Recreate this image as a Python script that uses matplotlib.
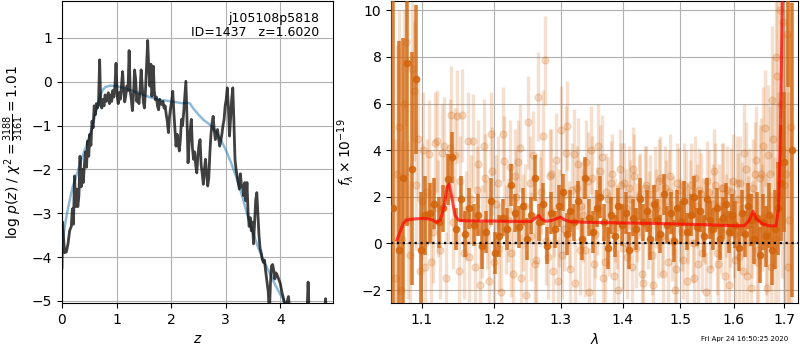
import numpy as np
import matplotlib
matplotlib.use('Agg')
import matplotlib.pyplot as plt

# ---- left panel: log p(z) ----
z_pz = [0.00, 0.01, 0.03, 0.05, 0.08, 0.11, 0.14, 0.17, 0.19, 0.21, 0.23, 0.25, 0.27, 0.29,
        0.31, 0.33, 0.35, 0.37, 0.39, 0.41, 0.43, 0.45, 0.47, 0.49, 0.51, 0.53, 0.55, 0.57,
        0.59, 0.61, 0.63, 0.65, 0.67, 0.69, 0.71, 0.73, 0.75, 0.77, 0.79, 0.81, 0.83, 0.85,
        0.87, 0.89, 0.91, 0.93, 0.95, 0.97, 0.99, 1.01, 1.03, 1.05, 1.07, 1.09, 1.11, 1.13,
        1.15, 1.17, 1.19, 1.21, 1.23, 1.25, 1.27, 1.29, 1.31, 1.33, 1.35, 1.37, 1.39, 1.41,
        1.43, 1.45, 1.47, 1.49, 1.51, 1.53, 1.55, 1.57, 1.59, 1.61, 1.63, 1.645, 1.66, 1.675,
        1.69, 1.71, 1.73, 1.75, 1.77, 1.79, 1.81, 1.83, 1.85, 1.87, 1.89, 1.91, 1.93, 1.95,
        1.97, 1.99, 2.01, 2.03, 2.05, 2.07, 2.09, 2.11, 2.13, 2.15, 2.17, 2.19, 2.21, 2.23,
        2.25, 2.27, 2.29, 2.31, 2.33, 2.35, 2.37, 2.39, 2.41, 2.43, 2.45, 2.47, 2.49, 2.51,
        2.53, 2.55, 2.57, 2.59, 2.61, 2.63, 2.65, 2.67, 2.69, 2.71, 2.73, 2.75, 2.77, 2.79,
        2.81, 2.83, 2.85, 2.87, 2.89, 2.91, 2.93, 2.95, 2.97, 2.99, 3.01, 3.03, 3.05, 3.07,
        3.09, 3.11, 3.13, 3.15, 3.17, 3.19, 3.21, 3.23, 3.25, 3.27, 3.29, 3.31, 3.33, 3.35,
        3.37, 3.39, 3.41, 3.43, 3.45, 3.47, 3.49, 3.51, 3.53, 3.55, 3.57, 3.59, 3.61, 3.63,
        3.65, 3.67, 3.69, 3.71, 3.73, 3.75, 3.78, 3.80, 3.82, 3.84, 3.86, 3.88, 3.90, 3.92,
        3.94, 3.97, 4.00, 4.03, 4.06, 4.09, 4.12, 4.15, 4.18, 4.25, 4.35, 4.45, 4.49, 4.51,
        4.53, 4.60, 4.70, 4.80, 4.83, 4.85, 4.97]
logpz = [-4.25, -3.2, -3.6, -3.9, -3.88, -3.7, -3.4, -3.3, -2.9, -3.25, -2.15, -2.85, -2.45, -2.85,
         -2.6, -1.7, -2.4, -2.0, -2.3, -1.9, -1.6, -1.95, -1.35, -1.7, -1.2, -1.45, -0.9, -1.05,
         -0.55, -0.75, -0.5, -0.6, -0.45, 0.5, -0.55, -0.6, -0.4, -0.55, -0.3, -0.45, -0.35, -0.25,
         -0.5, -0.3, -0.45, -0.2, -0.35, -0.1, 0.42, -0.3, -0.5, -0.25, -0.4, -0.1, 0.23, -0.2,
         -0.46, -0.3, -0.1, -0.2, 0.71, -0.2, -0.4, -0.66, -0.3, 0.27, 0.05, -0.45, -0.3, -0.5,
         -0.2, 0.27, -0.1, -0.45, -0.6, -0.2, 0.4, 0.94, 0.3, -0.1, 0.4, -0.33, -0.2, 0.35,
         -0.2, -0.41, -0.35, -0.55, -0.64, -0.4, -0.5, -0.52, -0.45, -0.6, -0.55, -0.75, -0.9, -1.16,
         -0.8, -0.6, -0.45, -0.22, -0.7, -1.1, -1.47, -1.2, -1.4, -1.58, -1.3, -0.86, -1.0, -0.7,
         -0.35, 0.01, -0.8, -1.85, -1.4, -1.1, -0.86, -1.5, -1.77, -1.6, -1.9, -2.08, -1.7, -1.45,
         -1.32, -1.9, -2.1, -2.34, -2.0, -1.77, -2.1, -2.38, -2.2, -1.62, -1.2, -0.95, -0.79, -1.1,
         -1.32, -1.2, -1.09, -1.3, -1.47, -1.35, -1.2, -1.0, -0.86, -0.55, -0.4, -0.14, -0.6, -1.24,
         -0.8, -0.4, -0.14, -0.9, -1.77, -2.0, -2.15, -2.3, -2.45, -2.1, -2.4, -2.38, -2.6, -2.3,
         -2.72, -2.3, -3.0, -3.3, -3.1, -3.4, -3.2, -3.7, -3.2, -2.7, -2.53, -3.0, -3.5, -3.8,
         -3.9, -4.05, -4.12, -4.07, -4.3, -4.5, -4.8, -5.3, -4.6, -4.2, -4.17, -4.3, -4.5, -4.36,
         -4.4, -4.5, -4.6, -4.8, -4.95, -5.2, -5.05, -4.9, -5.3, -5.6, -5.5, -5.6, -5.3, -4.57,
         -5.3, -5.6, -5.5, -5.4, -4.95, -5.4, -5.6]

z_prior = [0.0, 0.05, 0.1, 0.15, 0.2, 0.25, 0.3, 0.35, 0.4, 0.45, 0.5, 0.55, 0.6, 0.65, 0.7,
           0.75, 0.8, 0.85, 0.9, 1.0, 1.1, 1.2, 1.3, 1.4, 1.5, 1.6, 1.7, 1.8, 1.9, 2.0, 2.1,
           2.2, 2.3, 2.35, 2.4, 2.5, 2.6, 2.7, 2.8, 2.9, 3.0, 3.1, 3.2, 3.3, 3.4, 3.5, 3.6,
           3.7, 3.8, 3.9, 4.0, 4.1, 4.2]
logpz_prior = [-3.75, -3.3, -2.95, -2.65, -2.38, -2.2, -2.0, -1.8, -1.62, -1.45, -1.25, -1.05,
               -0.8, -0.55, -0.32, -0.18, -0.12, -0.1, -0.09, -0.1, -0.13, -0.17, -0.21, -0.25,
               -0.3, -0.35, -0.38, -0.42, -0.43, -0.45, -0.47, -0.49, -0.48, -0.5, -0.6, -0.75,
               -0.88, -0.97, -1.1, -1.3, -1.55, -1.85, -2.2, -2.6, -3.05, -3.45, -3.8, -4.1,
               -4.35, -4.62, -4.85, -5.05, -5.25]

# ---- right panel: spectrum ----
wl_bin = [1.0625, 1.070, 1.076, 1.081, 1.087, 1.093, 1.099, 1.105, 1.111, 1.117, 1.123, 1.129,
          1.135, 1.141, 1.147, 1.153, 1.159, 1.165, 1.171, 1.177, 1.183, 1.189, 1.195, 1.201,
          1.207, 1.213, 1.219, 1.225, 1.231, 1.237, 1.243, 1.249, 1.255, 1.261, 1.267, 1.273,
          1.279, 1.285, 1.291, 1.297, 1.303, 1.309, 1.315, 1.321, 1.327, 1.333, 1.339, 1.345,
          1.351, 1.357, 1.363, 1.369, 1.375, 1.381, 1.387, 1.393, 1.399, 1.405, 1.411, 1.417,
          1.423, 1.429, 1.435, 1.441, 1.447, 1.453, 1.459, 1.465, 1.471, 1.477, 1.483, 1.489,
          1.495, 1.501, 1.507, 1.513, 1.519, 1.525, 1.531, 1.537, 1.543, 1.549, 1.555, 1.561,
          1.567, 1.573, 1.579, 1.585, 1.591, 1.597, 1.603, 1.609, 1.615, 1.621, 1.627, 1.633,
          1.639, 1.645, 1.651, 1.657, 1.663, 1.669, 1.675, 1.681, 1.687, 1.693, 1.699, 1.708,
          1.715]
flux_bin = [1.5, -0.3, 2.8, 7.75, 3.2, 7.05, -0.3, 1.2, 1.3, 1.7, 0.9, 1.5,
            2.75, 3.7, 0.6, 1.9, 0.4, 1.5, 0.8, 1.2, -0.1, 0.5, 1.8, -0.4,
            0.3, 1.1, 0.6, 2.5, 1.3, 0.7, 1.6, 0.2, 1.2, 2.8, 0.9, 1.7,
            -0.1, 1.3, 0.6, 1.6, 2.2, 0.4, 1.4, 0.9, 1.8, 0.2, 2.8, 1.1,
            0.5, 1.5, 2.0, 0.9, -0.2, 1.2, 0.3, 1.6, 0.8, 1.3, -0.3, 1.1,
            0.6, 1.9, 0.9, 1.4, 0.2, 1.7, 1.0, 0.4, 2.1, 0.8, 1.3, 0.1,
            1.5, 0.9, 1.8, 0.5, 1.2, 2.0, 0.7, 1.4, 0.3, 1.9, 1.0, 0.6,
            1.5, 0.2, 1.1, 1.7, 0.5, 1.2, 0.8, -0.2, 1.3, 0.4, 1.6, 1.0,
            0.2, 1.1, -0.5, 0.9, 0.3, 1.2, -0.3, 0.6, 1.5, 2.6, 3.5, 11.0,
            4.0]
err_bin = [9.0, 9.0, 6.0, 7.0, 5.0, 3.2, 2.5, 1.7, 1.3, 1.1, 1.1, 1.0,
           1.1, 1.1, 0.9, 1.0, 1.0, 0.9, 0.9, 0.9, 1.0, 0.9, 1.0, 0.9,
           0.9, 0.8, 0.9, 0.9, 0.8, 0.9, 0.8, 0.9, 0.8, 1.0, 0.8, 0.9,
           0.8, 0.9, 0.8, 0.9, 0.8, 0.9, 0.9, 0.8, 0.9, 0.9, 0.9, 0.8,
           0.9, 0.8, 0.9, 0.8, 0.9, 0.8, 0.9, 0.8, 0.9, 0.9, 0.8, 0.8,
           0.9, 0.9, 0.8, 0.9, 0.9, 0.8, 0.9, 0.8, 0.9, 0.8, 0.9, 0.9,
           0.8, 0.9, 0.9, 0.8, 0.9, 0.9, 0.8, 0.9, 0.9, 0.9, 0.8, 0.9,
           0.9, 0.9, 0.9, 0.9, 0.9, 0.9, 1.0, 1.0, 1.0, 1.0, 1.0, 1.1,
           1.1, 1.1, 1.2, 1.2, 1.3, 1.4, 1.5, 1.7, 2.0, 2.5, 3.0, 4.3,
           6.3]

wl_pix = [1.065, 1.070, 1.075, 1.080, 1.085, 1.090, 1.095, 1.100, 1.105, 1.110,
          1.115, 1.120, 1.125, 1.130, 1.135, 1.140, 1.145, 1.150, 1.155, 1.160,
          1.165, 1.170, 1.175, 1.180, 1.185, 1.190, 1.195, 1.200, 1.205, 1.210,
          1.215, 1.220, 1.225, 1.230, 1.235, 1.240, 1.245, 1.250, 1.255, 1.260,
          1.265, 1.270, 1.275, 1.280, 1.285, 1.290, 1.295, 1.300, 1.305, 1.310,
          1.315, 1.320, 1.325, 1.330, 1.335, 1.340, 1.345, 1.350, 1.355, 1.360,
          1.365, 1.370, 1.375, 1.380, 1.385, 1.390, 1.395, 1.400, 1.405, 1.410,
          1.415, 1.420, 1.425, 1.430, 1.435, 1.440, 1.445, 1.450, 1.455, 1.460,
          1.465, 1.470, 1.475, 1.480, 1.485, 1.490, 1.495, 1.500, 1.505, 1.510,
          1.515, 1.520, 1.525, 1.530, 1.535, 1.540, 1.545, 1.550, 1.555, 1.560,
          1.565, 1.570, 1.575, 1.580, 1.585, 1.590, 1.595, 1.600, 1.605, 1.610,
          1.615, 1.620, 1.625, 1.630, 1.635, 1.640, 1.645, 1.650, 1.655, 1.660,
          1.665, 1.670, 1.675, 1.680, 1.685, 1.690, 1.695, 1.700, 1.705, 1.710]
flux_pix = [-1.5, 5.0, 0.2, 8.65, -0.5, 6.55, 4.5, 1.8, -1.0, 3.85,
            0.5, 4.4, -0.3, 4.2, 2.0, 5.5, 3.8, -1.2, 5.5, 1.2,
            -0.6, 4.4, 2.3, -1.8, 4.2, 0.8, 4.7, -0.8, 2.6, -2.1,
            3.55, 1.0, -0.4, 2.9, 3.5, -1.5, 1.6, 5.2, 0.3, -0.9,
            6.3, 2.2, 7.85, -0.6, 3.0, 1.4, -1.6, 4.85, 0.6, 5.05,
            -1.1, 3.85, 2.4, -0.3, 1.2, 3.5, -2.1, 2.8, 0.4, 4.2,
            3.7, -0.8, 1.9, 2.6, -1.4, 0.7, 3.2, -0.2, 1.5, 2.4,
            -1.0, 2.9, 0.9, 2.1, -1.7, 2.5, 1.3, -0.5, 2.4, 0.2,
            2.8, -1.3, 1.8, 2.2, 0.1, -2.0, 2.6, 1.0, -0.7, 2.2,
            0.8, 2.5, -1.5, 1.6, 2.3, -0.4, 0.9, 2.7, -1.1, 1.7,
            2.5, -0.9, 0.5, 2.4, 1.2, -1.8, 2.2, 0.4, 2.6, -0.6,
            1.5, 3.9, -1.4, 2.0, 0.6, 3.0, -0.8, 2.8, 1.1, 4.95,
            -1.9, 3.0, 6.15, 0.2, 7.2, 10.0, 4.0, 2.5, 9.0, 1.0]
err_pix = [6.0, 5.0, 4.2, 3.6, 3.2, 3.0, 2.7, 2.5, 2.4, 2.3,
           2.2, 2.2, 2.1, 2.1, 2.0, 2.1, 2.0, 1.9, 2.0, 1.9,
           1.9, 2.0, 1.9, 1.8, 2.0, 1.9, 1.8, 1.9, 2.0, 1.8,
           1.9, 1.8, 1.9, 2.0, 1.8, 1.9, 1.8, 2.0, 1.9, 1.8,
           1.9, 1.8, 1.9, 1.8, 1.9, 2.0, 1.8, 1.9, 1.8, 1.9,
           1.8, 1.9, 1.8, 1.9, 2.0, 1.8, 1.9, 1.8, 1.9, 1.8,
           1.8, 1.7, 1.8, 1.8, 1.7, 1.8, 1.7, 1.8, 1.7, 1.8,
           1.7, 1.8, 1.7, 1.8, 1.8, 1.7, 1.8, 1.7, 1.8, 1.7,
           1.8, 1.7, 1.8, 1.8, 1.7, 1.8, 1.7, 1.8, 1.7, 1.8,
           1.7, 1.8, 1.7, 1.8, 1.8, 1.7, 1.8, 1.7, 1.8, 1.7,
           1.8, 1.7, 1.8, 1.9, 1.8, 1.8, 1.9, 1.9, 2.0, 1.9,
           2.0, 2.1, 2.0, 2.1, 2.1, 2.2, 2.1, 2.3, 2.3, 2.5,
           2.7, 2.9, 3.2, 3.5, 3.9, 4.6, 5.5, 6.5, 7.0, 8.0]

wl_pix2 = [1.0675, 1.0725, 1.0775, 1.0825, 1.0875, 1.0925, 1.0975, 1.1025, 1.1075, 1.1125,
           1.1175, 1.1225, 1.1275, 1.1325, 1.1375, 1.1425, 1.1475, 1.1525, 1.1575, 1.1625,
           1.1675, 1.1725, 1.1775, 1.1825, 1.1875, 1.1925, 1.1975, 1.2025, 1.2075, 1.2125,
           1.2175, 1.2225, 1.2275, 1.2325, 1.2375, 1.2425, 1.2475, 1.2525, 1.2575, 1.2625,
           1.2675, 1.2725, 1.2775, 1.2825, 1.2875, 1.2925, 1.2975, 1.3025, 1.3075, 1.3125,
           1.3175, 1.3225, 1.3275, 1.3325, 1.3375, 1.3425, 1.3475, 1.3525, 1.3575, 1.3625,
           1.3675, 1.3725, 1.3775, 1.3825, 1.3875, 1.3925, 1.3975, 1.4025, 1.4075, 1.4125,
           1.4175, 1.4225, 1.4275, 1.4325, 1.4375, 1.4425, 1.4475, 1.4525, 1.4575, 1.4625,
           1.4675, 1.4725, 1.4775, 1.4825, 1.4875, 1.4925, 1.4975, 1.5025, 1.5075, 1.5125,
           1.5175, 1.5225, 1.5275, 1.5325, 1.5375, 1.5425, 1.5475, 1.5525, 1.5575, 1.5625,
           1.5675, 1.5725, 1.5775, 1.5825, 1.5875, 1.5925, 1.5975, 1.6025, 1.6075, 1.6125,
           1.6175, 1.6225, 1.6275, 1.6325, 1.6375, 1.6425, 1.6475, 1.6525, 1.6575, 1.6625,
           1.6675, 1.6725, 1.6775, 1.6825, 1.6875, 1.6925, 1.6975, 1.7025, 1.7075, 1.7125]
flux_pix2 = [3.0, -2.0, 6.0, 1.0, 7.5, 2.5, -1.2, 4.0, 2.2, -0.8,
             4.3, 1.5, 3.9, -1.5, 4.1, 0.9, 5.45, 2.7, -0.4, 4.4,
             1.9, -1.0, 3.4, 0.5, 2.8, -1.6, 3.1, 1.7, -0.2, 4.7,
             0.6, 3.3, -1.3, 2.0, 4.1, 0.9, -2.2, 2.6, 3.8, -0.7,
             1.8, 4.6, 0.1, 2.9, -1.2, 3.6, 1.1, -0.5, 3.9, 0.8,
             2.3, -1.7, 3.4, 1.6, -0.3, 2.7, 4.0, -0.9, 1.4, 3.1,
             -1.5, 2.2, 0.4, 3.0, 1.0, -2.0, 2.5, 2.6, -0.6, 1.9,
             3.2, -0.2, 2.0, -1.3, 2.4, 0.7, 2.1, -1.8, 1.5, 2.7,
             0.3, 2.4, -0.8, 2.9, 1.2, -1.1, 2.3, 0.5, 2.5, -1.6,
             1.8, 0.0, 2.8, -0.9, 2.1, 1.0, -2.1, 2.2, 0.6, 3.1,
             -0.4, 1.6, 2.4, -1.4, 2.3, 0.9, 2.7, -0.7, 1.9, 2.6,
             -1.2, 3.2, 0.8, -1.9, 2.4, 3.6, -0.3, 3.0, 4.2, 0.4,
             3.8, -1.0, 4.5, 8.0, 2.0, 6.0, 9.5, 3.0, -1.0, 5.0]
err_pix2 = [5.5, 4.6, 4.0, 3.4, 3.1, 2.8, 2.6, 2.5, 2.3, 2.2,
            2.2, 2.1, 2.1, 2.0, 2.1, 2.0, 2.0, 1.9, 2.0, 2.1,
            1.9, 2.0, 1.9, 2.0, 1.9, 2.0, 1.9, 2.1, 1.9, 2.0,
            1.9, 2.0, 1.9, 2.0, 1.9, 2.1, 1.9, 2.0, 1.9, 2.0,
            1.9, 2.0, 1.9, 2.0, 1.9, 2.0, 2.1, 1.9, 2.0, 1.9,
            2.0, 1.9, 2.0, 1.9, 2.0, 2.1, 1.9, 2.0, 1.9, 2.0,
            1.8, 1.7, 1.8, 1.7, 1.8, 1.7, 1.8, 1.7, 1.8, 1.7,
            1.8, 1.7, 1.8, 1.7, 1.8, 1.8, 1.7, 1.8, 1.7, 1.8,
            1.7, 1.8, 1.7, 1.8, 1.7, 1.8, 1.8, 1.7, 1.8, 1.7,
            1.8, 1.7, 1.8, 1.7, 1.8, 1.8, 1.7, 1.8, 1.7, 1.8,
            1.8, 1.8, 1.9, 1.8, 1.9, 1.9, 2.0, 1.9, 2.0, 2.0,
            2.1, 2.0, 2.1, 2.2, 2.1, 2.3, 2.2, 2.4, 2.5, 2.6,
            3.0, 3.2, 3.5, 4.0, 4.5, 5.2, 6.0, 7.0, 7.5, 8.5]

wl_model = [1.068, 1.072, 1.076, 1.080, 1.090, 1.100, 1.110, 1.115, 1.120, 1.125, 1.130,
            1.134, 1.137, 1.140, 1.145, 1.150, 1.160, 1.200, 1.240, 1.255, 1.262, 1.266,
            1.270, 1.276, 1.285, 1.295, 1.300, 1.305, 1.315, 1.350, 1.400, 1.450, 1.500,
            1.550, 1.600, 1.620, 1.630, 1.637, 1.644, 1.655, 1.670, 1.683, 1.688, 1.691,
            1.694, 1.697]
flux_model = [0.15, 0.5, 0.85, 1.0, 1.05, 1.07, 1.05, 1.0, 0.9, 1.0, 1.6,
              2.4, 2.55, 2.1, 1.2, 1.0, 0.97, 0.96, 0.94, 0.95, 1.1, 1.2,
              1.05, 0.95, 0.98, 1.08, 1.12, 1.02, 0.93, 0.9, 0.88, 0.86, 0.83,
              0.8, 0.76, 0.76, 1.0, 1.38, 1.05, 0.85, 0.75, 0.76, 1.5, 4.0,
              8.0, 12.0]

fig = plt.figure(figsize=(8, 3.5), dpi=100)
ax1 = fig.add_axes([0.0775, 0.134, 0.339, 0.863])
ax2 = fig.add_axes([0.489, 0.134, 0.508, 0.863])

# p(z)
ax1.plot(z_prior, logpz_prior, color='tab:blue', alpha=0.5, lw=1.8, zorder=3)
ax1.plot(z_pz, logpz, color='k', alpha=0.75, lw=2, zorder=4)
ax1.set_xlim(0, 4.97)
ax1.set_ylim(-5.05, 1.84)
ax1.set_xticks([0, 1, 2, 3, 4])
ax1.set_yticks([-5, -4, -3, -2, -1, 0, 1])
ax1.grid(True)
ax1.set_axisbelow(True)
ax1.set_xlabel('$z$')
ax1.set_ylabel(r'log $p(z)$ / $\chi^2=\frac{3188}{3161}=1.01$')
ax1.text(0.95, 0.965, 'j105108p5818\nID=1437   z=1.6020', transform=ax1.transAxes,
         ha='right', va='top', fontsize=9, linespacing=1.15)

# spectrum
orange = '#d2630a'
for wl, fl, er in [(wl_pix, flux_pix, err_pix), (wl_pix2, flux_pix2, err_pix2)]:
    ax2.errorbar(wl, fl, yerr=er, fmt='o', color=orange, alpha=0.2,
                 ms=5, elinewidth=2.4, capsize=0, zorder=2)
ax2.errorbar(wl_bin, flux_bin, yerr=err_bin, fmt='o', color=orange, alpha=0.8,
             ms=4.5, elinewidth=2.6, capsize=0, zorder=3)
ax2.plot(wl_model, flux_model, color='red', alpha=0.7, lw=2.2, zorder=4)
ax2.axhline(0, color='k', ls=':', lw=1.6, zorder=5)

ax2.set_xscale('log')
ax2.set_xlim(1.0606, 1.727)
ax2.set_ylim(-2.56, 10.4)
xt = [1.1, 1.2, 1.3, 1.4, 1.5, 1.6, 1.7]
ax2.set_xticks(xt)
ax2.set_xticklabels(['%.1f' % v for v in xt])
ax2.xaxis.set_minor_locator(matplotlib.ticker.NullLocator())
ax2.set_yticks([-2, 0, 2, 4, 6, 8, 10])
ax2.grid(True)
ax2.set_axisbelow(True)
ax2.set_xlabel(r'$\lambda$')
ax2.set_ylabel(r'$f_\lambda \times 10^{-19}$')

fig.text(0.985, 0.031, 'Fri Apr 24 16:50:25 2020', ha='right', va='center', fontsize=5)

fig.savefig('out.png', dpi=100)
